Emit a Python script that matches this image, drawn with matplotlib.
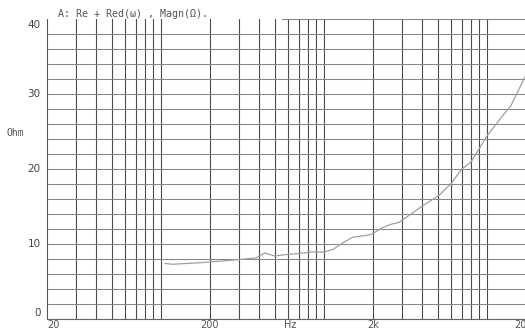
import numpy as np
import matplotlib
matplotlib.use("Agg")
import matplotlib.pyplot as plt

# impedance curve
freq = [106, 118, 172, 276, 384, 433, 499, 589, 711, 860, 991, 1142, 1318,
        1500, 1879, 2000, 2250, 2557, 2900, 3918, 5085, 6000, 7020, 7970,
        10000, 12800, 14000, 17400]
ohm = [7.4, 7.3, 7.5, 7.85, 8.15, 8.8, 8.4, 8.6, 8.75, 8.95, 8.9, 9.3, 10.2,
       10.9, 11.2, 11.4, 12.1, 12.6, 12.9, 14.9, 16.5, 18.0, 20.0, 20.9,
       24.4, 27.4, 28.4, 32.6]

y_ticks = [0, 10, 20, 30, 40]
x_labels = [(20, "20"), (200, "200"), (620, "Hz"), (2000, "2k"), (20000, "20k")]

fig = plt.figure(figsize=(5.25, 3.31), dpi=100)
ax = fig.add_axes([47 / 525, 12 / 331, 489 / 525, 300 / 331])
ax.set_xscale("log")
ax.set_xlim(20, 20000)
ax.set_ylim(0, 40)

# grid: dark verticals, lighter horizontals every 2 ohm
vlines = [m * 10 ** d for d in range(1, 4) for m in range(2, 11)]
for v in vlines:
    if v > 20:
        ax.axvline(v, color="#4a4a4a", lw=0.8, zorder=1)
for h in range(2, 40, 2):
    ax.axhline(h, color="#858585", lw=0.75, zorder=1)
ax.axhline(40, xmin=np.log10(550 / 20) / 3, color="#858585", lw=0.75, zorder=1)

ax.plot(freq, ohm, color="#a0a0a0", lw=0.9, zorder=2)

for s in ["top", "right"]:
    ax.spines[s].set_visible(False)
ax.spines["left"].set_color("#555555")
ax.spines["bottom"].set_color("#666666")
ax.spines["left"].set_linewidth(0.8)
ax.spines["bottom"].set_linewidth(0.8)
ax.set_xticks([])
ax.set_yticks([])
ax.minorticks_off()

# labels at the ends are pulled inside the frame, like on the print
for t in y_ticks:
    ypos = min(max(t, 0.8), 39.2)
    ax.text(-0.013, ypos / 40, str(t), transform=ax.transAxes, ha="right", va="center",
            fontsize=7.5, color="#444444")

for f, lab in x_labels:
    ha = "center"
    if f == 20:
        ha = "left"
    elif f == 20000:
        ha = "right"
        f = 19000
    ax.text(f, -0.15, lab, ha=ha, va="top", fontsize=7, color="#555555", clip_on=False)

fig.text(15 / 525, 1 - 133 / 331, "Ohm", ha="center", va="center",
         fontsize=7, color="#555555", family="DejaVu Sans Mono")
fig.text(58 / 525, 1 - 14 / 331, "A: Re + Red(\u03c9) , Magn(\u03a9).", ha="left", va="center",
         fontsize=7.2, color="#555555", family="DejaVu Sans Mono")

fig.savefig("out.png", dpi=100)
